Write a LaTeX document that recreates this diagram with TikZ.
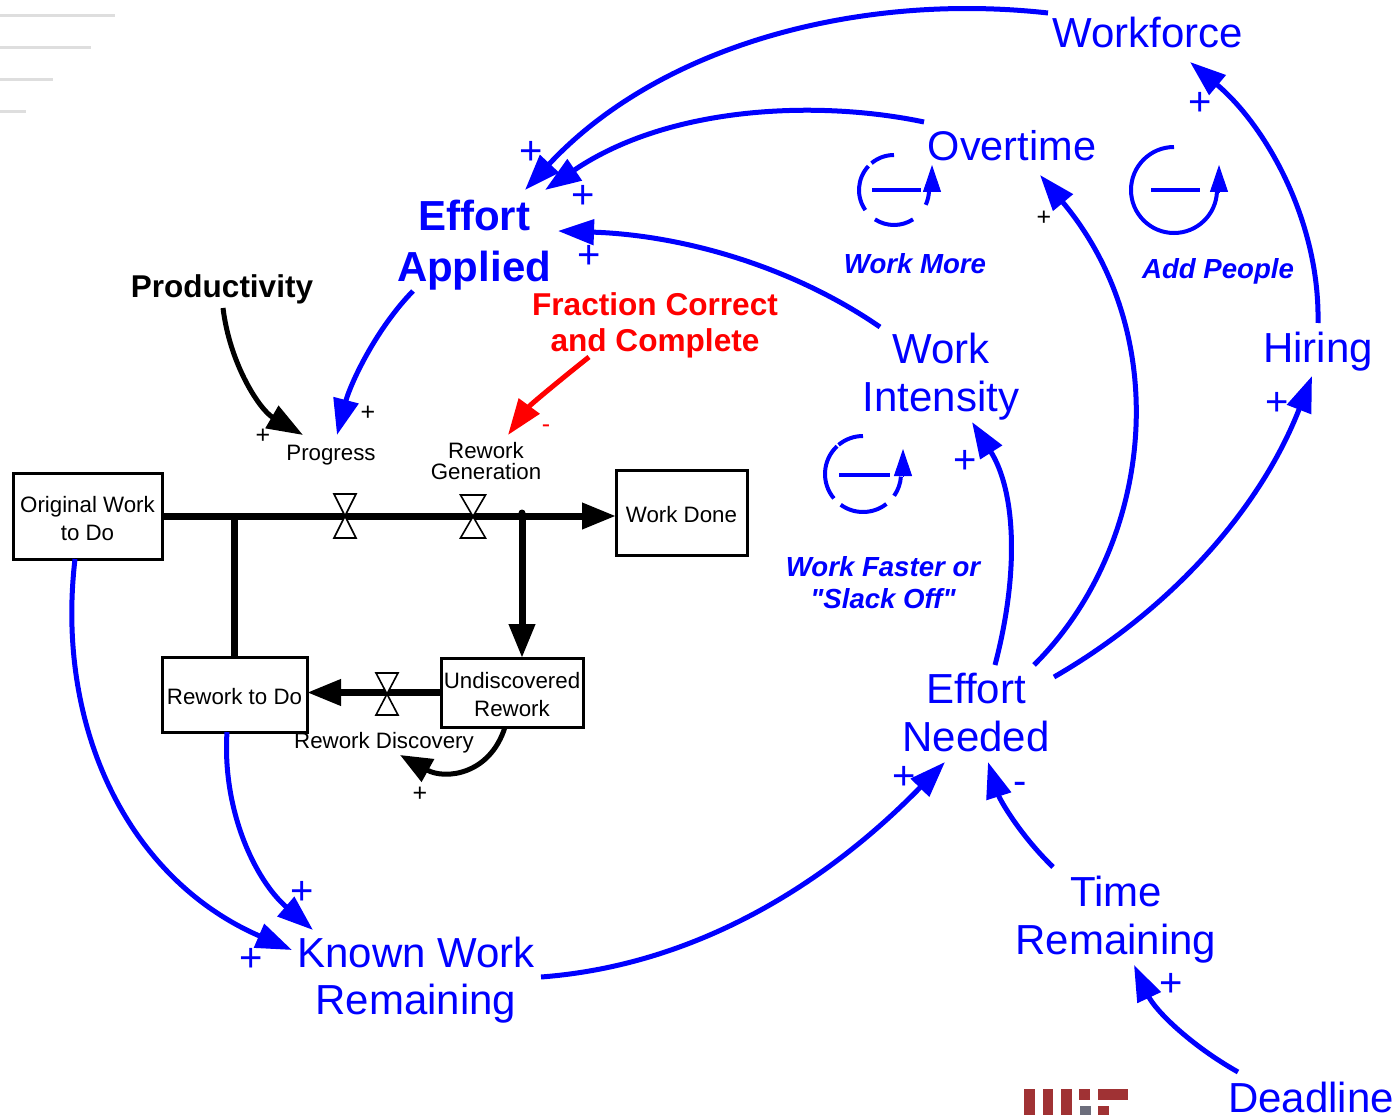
\documentclass[tikz,border=0pt]{standalone}
\usepackage{fontspec}
\setmainfont{Liberation Sans}
\newfontfamily\loopfont{Liberation Sans}
\usepackage{xcolor}
\usetikzlibrary{arrows.meta,positioning}
\definecolor{linkblue}{RGB}{0,0,255}
\definecolor{logored}{RGB}{160,50,52}
\definecolor{logogray}{RGB}{108,110,124}
\definecolor{ghostgray}{RGB}{222,222,222}
\newcommand{\lowered}[1]{\raisebox{-2.2pt}[\height][\depth]{#1}}
\tikzset{
    varname/.style={text=linkblue, align=center, inner sep=0pt, font=\fontsize{42}{48}\selectfont},
    keyname/.style={text=linkblue, align=center, inner sep=0pt, font=\bfseries\fontsize{42}{51}\selectfont},
    loopname/.style={text=linkblue, align=center, inner sep=0pt, font=\loopfont\bfseries\itshape\fontsize{27.6}{32}\selectfont},
    flowname/.style={align=center, inner sep=0pt, font=\fontsize{22.3}{21}\selectfont},
    stockbox/.style={draw, line width=3pt, align=center, inner sep=0pt, outer sep=0pt, font=\fontsize{22.3}{28}\selectfont},
    pipe/.style={line width=7pt, -{Triangle[length=34pt,width=25pt]}},
    pipeplain/.style={line width=7pt},
    valve/.style={line width=1.6pt, fill=white, line join=miter},
    link/.style={linkblue, line width=5pt, -{Triangle[length=36pt,width=25pt]}},
    blacklink/.style={link, black},
    redlink/.style={link, red},
    thinlink/.style={blacklink, line width=5pt, -{Triangle[length=32pt,width=25pt]}},
    plusblue/.style={text=linkblue, inner sep=0pt, font=\fontsize{40}{40}\selectfont},
    plusblack/.style={inner sep=0pt, font=\fontsize{25}{25}\selectfont},
    loopline/.style={linkblue, line width=4pt},
    looptip/.style={linkblue, line width=1pt, -{Triangle[length=27pt,width=18pt]}}
}
\begin{document}
\begin{tikzpicture}[x=1pt, y=-1pt]
    \useasboundingbox (0,0) rectangle (1398,1115);

    % leftover rules, top left
    \fill[ghostgray] (0,14) rectangle (115,17);
    \fill[ghostgray] (0,46) rectangle (91,49);
    \fill[ghostgray] (0,78) rectangle (53,81);
    \fill[ghostgray] (0,110) rectangle (26,113);

    % variables
    \node[varname] (workforce) at (1148,32) {Workforce};
    \node[varname, font=\fontsize{41.5}{48}\selectfont] (overtime) at (1012,146) {Overtime};
    \node[keyname] (effortapplied) at (474,245) {Effort\\Applied};
    \node[inner sep=0pt, font=\bfseries\fontsize{31.5}{36}\selectfont] (productivity) at (222,289) {Productivity};
    \node[text=red, align=center, inner sep=0pt, font=\bfseries\fontsize{31.6}{36}\selectfont] (fraction) at (655,325) {Fraction Correct\\and Complete};
    \node[varname] (workintensity) at (941,377) {Work\\Intensity};
    \node[varname] (hiring) at (1318,352) {Hiring};
    \node[varname] (effortneeded) at (976,713) {Effort\\Needed};
    \node[varname] (timeremaining) at (1116,920) {Time\\Remaining};
    \node[varname, font=\fontsize{42}{47}\selectfont] (knownwork) at (416,980) {Known Work\\Remaining};
    \node[varname] (deadline) at (1311,1097) {Deadline};

    % loop names
    \node[loopname] (workmore) at (915,264) {Work More};
    \node[loopname] (addpeople) at (1218,271) {Add People};
    \node[loopname] (workfaster) at (883,583) {Work Faster or\\"Slack Off"};

    % stocks
    \node[stockbox, minimum width=149pt, minimum height=86pt] (original) at (87.5,516) {\lowered{Original Work}\\\lowered{to Do}};
    \node[stockbox, minimum width=131pt, minimum height=85pt] (workdone) at (681.5,512.5) {\lowered{Work Done}};
    \node[stockbox, minimum width=145pt, minimum height=75pt] (reworktodo) at (234.5,694.5) {\lowered{Rework to Do}};
    \node[stockbox, minimum width=142pt, minimum height=69pt] (undiscovered) at (512,692.5) {\lowered{Undiscovered}\\\lowered{Rework}};

    % flow names
    \node[flowname] (progress) at (331,455) {Progress};
    \node[flowname] (reworkgen) at (486,461) {Rework\\Generation};
    \node[flowname] (reworkdisc) at (384,743) {Rework Discovery};

    % pipes
    \coordinate (branchin) at (235,515);
    \coordinate (branchout) at (522,513);
    \draw[pipe] (original.east) -- (original.east -| workdone.west);
    \draw[pipeplain] (reworktodo.north) -- (reworktodo.north |- branchin);
    \draw[pipe] (branchout) -- (branchout |- undiscovered.north);
    \draw[pipe] (undiscovered.west) -- (undiscovered.west -| reworktodo.east);
    \fill (branchout) circle (3.5pt);

    % valves
    \coordinate (valveprogress) at (345,516);
    \coordinate (valvegen) at (473,516);
    \coordinate (valvedisc) at (387,694);
    \draw[valve] ([shift={(-11,-22)}]valveprogress) -- ++(22,0) -- ++(-22,44) -- ++(22,0) -- cycle;
    \draw[valve] ([shift={(-12.5,-21)}]valvegen) -- ++(25,0) -- ++(-25,43) -- ++(25,0) -- cycle;
    \draw[valve] ([shift={(-11,-21)}]valvedisc) -- ++(22,0) -- ++(-22,42) -- ++(22,0) -- cycle;

    % links into effort applied
    \draw[link] ([shift={(-100,-19)}]workforce.center) .. controls (860,-8) and (660,45) .. ([shift={(51,-55)}]effortapplied.center);
    \draw[link] ([shift={(-88,-24)}]overtime.center) .. controls (820,100) and (670,105) .. ([shift={(71,-55)}]effortapplied.center);
    \draw[link] ([shift={(-61,-50)}]workintensity.center) .. controls (790,265) and (680,235) .. ([shift={(84,-14)}]effortapplied.center);

    % links into the flows
    \draw[link] ([shift={(-61,46)}]effortapplied.center) .. controls (375,330) and (350,385) .. ([shift={(6,-20)}]progress.center);
    \draw[blacklink] ([shift={(1,19)}]productivity.center) .. controls (230,365) and (260,410) .. ([shift={(-28,-20)}]progress.center);
    \draw[redlink] ([shift={(-66,32)}]fraction.center) .. controls (560,380) and (530,405) .. ([shift={(22,-26)}]reworkgen.center);
    \draw[thinlink] ([xshift=-7pt]undiscovered.south) .. controls (490,775) and (445,780) .. ([shift={(16,12)}]reworkdisc.center);

    % known work
    \draw[link] ([xshift=-12.5pt]original.south) .. controls (55,730) and (130,880) .. ([shift={(-124,-30)}]knownwork.center);
    \draw[link] ([xshift=-7.5pt]reworktodo.south) .. controls (222,810) and (255,880) .. ([shift={(-103,-50)}]knownwork.center);
    \draw[link] ([shift={(125,-3)}]knownwork.center) .. controls (700,965) and (830,880) .. ([shift={(-31,49)}]effortneeded.center);

    % out of effort needed
    \draw[link] ([shift={(19,-48)}]effortneeded.center) .. controls (1020,570) and (1015,490) .. ([shift={(31,45)}]workintensity.center);
    \draw[link] ([shift={(58,-48)}]effortneeded.center) .. controls (1150,550) and (1178,340) .. ([shift={(28,29)}]overtime.center);
    \draw[link] ([shift={(78,-36)}]effortneeded.center) .. controls (1170,610) and (1260,510) .. ([shift={(-6,24)}]hiring.center);
    \draw[link] ([shift={(0,-29)}]hiring.center) .. controls (1320,220) and (1265,125) .. ([shift={(42,30)}]workforce.center);

    % schedule
    \draw[link] ([shift={(-63,-53)}]timeremaining.center) .. controls (1020,835) and (1000,800) .. ([shift={(12,49)}]effortneeded.center);
    \draw[link] ([shift={(-73,-25)}]deadline.center) .. controls (1190,1045) and (1155,1010) .. ([shift={(18,45)}]timeremaining.center);

    % polarity
    \node[plusblue] (signa) at (531,153) {+};
    \node[plusblue] (signb) at (583,197) {+};
    \node[plusblue] (signc) at (589,257) {+};
    \node[plusblue] (signd) at (965,462) {+};
    \node[plusblue] (signe) at (1200,104) {+};
    \node[plusblue] (signf) at (1277,404) {+};
    \node[plusblue] (signg) at (904,778) {+};
    \node[plusblue] (signh) at (302,893) {+};
    \node[plusblue] (signi) at (251,960) {+};
    \node[plusblue] (signj) at (1171,985) {+};
    \node[plusblue] (signk) at (1020,788) {-};
    \node[plusblack] (signl) at (368,413) {+};
    \node[plusblack] (signm) at (263,436) {+};
    \node[plusblack] (signn) at (1044,218) {+};
    \node[plusblack] (signo) at (420,794) {+};
    \node[plusblack, text=red] (signp) at (546,429) {-};

    % loop markers
    \coordinate (loopmore) at (894,190);
    \coordinate (looppeople) at (1174,190);
    \coordinate (loopfaster) at (863,474);
    \draw[loopline] (loopmore) ++(90:35pt) arc[start angle=90,end angle=130,radius=35pt]
        (loopmore) ++(137:35pt) arc[start angle=137,end angle=215,radius=35pt]
        (loopmore) ++(237:35pt) arc[start angle=237,end angle=303,radius=35pt]
        (loopmore) ++(335:35pt) arc[start angle=335,end angle=358,radius=35pt];
    \draw[loopline] ([xshift=-22pt]loopmore) -- ([xshift=27pt]loopmore);
    \draw[looptip] ([shift={(38,1)}]loopmore) -- ([shift={(38,-25)}]loopmore);

    \draw[loopline] (looppeople) ++(90:43pt) arc[start angle=90,end angle=358,radius=43pt];
    \draw[loopline] ([xshift=-23pt]looppeople) -- ([xshift=26pt]looppeople);
    \draw[looptip] ([shift={(45,2)}]looppeople) -- ([shift={(45,-25)}]looppeople);

    \draw[loopline] (loopfaster) ++(90:38pt) arc[start angle=90,end angle=130,radius=38pt]
        (loopfaster) ++(133:38pt) arc[start angle=133,end angle=220,radius=38pt]
        (loopfaster) ++(234:38pt) arc[start angle=234,end angle=308,radius=38pt]
        (loopfaster) ++(325:38pt) arc[start angle=325,end angle=356,radius=38pt];
    \draw[loopline] ([shift={(-24,1)}]loopfaster) -- ([shift={(27,1)}]loopfaster);
    \draw[looptip] ([shift={(40,2)}]loopfaster) -- ([shift={(40,-25)}]loopfaster);

    % logo
    \fill[logored] (1024,1089) rectangle (1035,1115);
    \fill[logored] (1043,1089) rectangle (1053,1115);
    \fill[logored] (1061,1089) rectangle (1072,1115);
    \fill[logored] (1079,1089) rectangle (1090,1100);
    \fill[logogray] (1080,1106) rectangle (1091,1115);
    \fill[logored] (1098,1089) rectangle (1128,1100);
    \fill[logored] (1098,1106) rectangle (1109,1115);
\end{tikzpicture}
\end{document}
